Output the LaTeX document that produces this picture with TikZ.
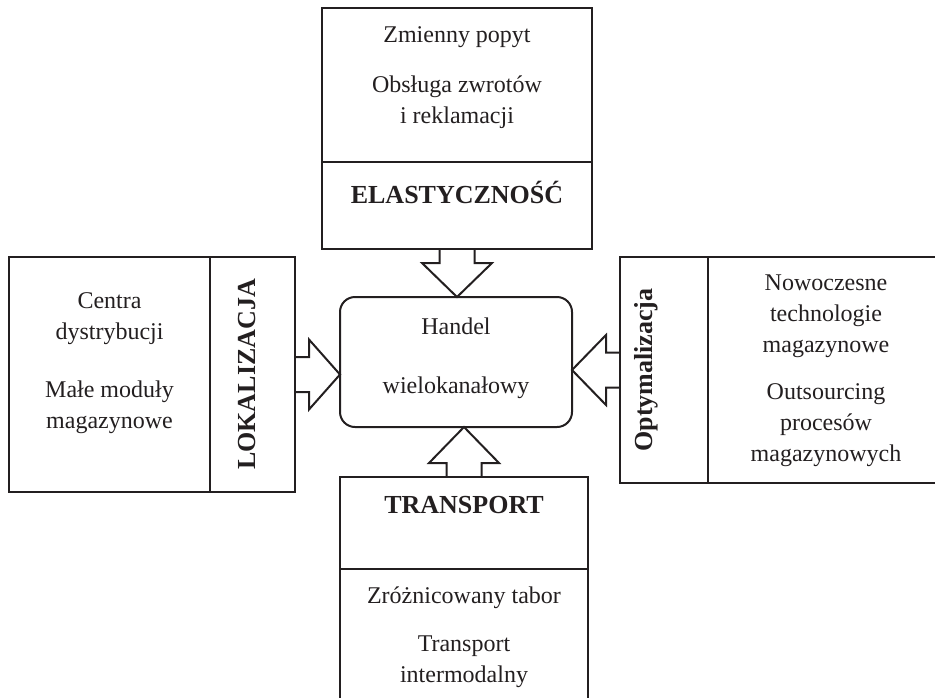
\documentclass[tikz,border=0pt]{standalone}
\usepackage{fontspec}
\setmainfont{Liberation Serif}
\usepackage{xcolor}
\definecolor{inkDark}{HTML}{231F20}
\usepackage{tikz}
\usetikzlibrary{positioning,calc}
\tikzset{
    part/.style={
        draw=inkDark,
        rectangle,
        line width=1pt,
        inner sep=0pt,
        outer sep=0pt,
        anchor=north west
    },
    hubbox/.style={
        draw=inkDark,
        rectangle,
        rounded corners=7.5pt,
        line width=1pt,
        inner sep=0pt,
        outer sep=0pt,
        minimum width=116pt,
        minimum height=65pt,
        anchor=north west
    },
    items/.style={
        align=center,
        inner sep=0pt,
        text=inkDark,
        font=\fontsize{12}{15.5}\selectfont
    },
    heading/.style={
        inner sep=0pt,
        text=inkDark,
        font=\fontsize{13}{15.5}\selectfont\bfseries
    },
    blockarrow/.style={
        draw=inkDark,
        line width=1pt,
        line join=miter
    }
}

\begin{document}
\begin{tikzpicture}[x=0.5pt,y=-0.5pt]
    \useasboundingbox (0,0) rectangle (935,697);

    % Central block
    \node[hubbox] (hub) at (340,297) {};
    \node[items, below=10pt of hub.north] (hubText) {Handel\\[14pt]wielokanałowy};

    % Elasticity (top)
    \node[part, minimum width=135pt, minimum height=77pt] (elastList) at (322,8) {};
    \node[part, minimum width=135pt, minimum height=43.5pt, below=0pt of elastList] (elastTitle) {};
    \node[items, below=9pt of elastList.north] (elastText) {Zmienny popyt\\[9.5pt]Obsługa zwrotów\\i reklamacji};
    \node[heading, below=20.5pt of elastTitle.north, anchor=base] (elastHead) {ELASTYCZNOŚĆ};

    % Location (left)
    \node[part, minimum width=100.5pt, minimum height=117.5pt] (lokList) at (9,257) {};
    \node[part, minimum width=42.5pt, minimum height=117.5pt, right=0pt of lokList] (lokTitle) {};
    \node[items, below=17.5pt of lokList.north] (lokText) {Centra\\dystrybucji\\[13.5pt]Małe moduły\\magazynowe};
    \node[heading, rotate=90, anchor=base] (lokHead) at ($(lokTitle.center)+(2.5,0)$) {LOKALIZACJA};

    % Optimisation (right)
    \node[part, minimum width=44pt, minimum height=113pt] (optTitle) at (620,257) {};
    \node[part, minimum width=118pt, minimum height=113pt, right=0pt of optTitle] (optList) {};
    \node[items, below=8.5pt of optList.north] (optText) {Nowoczesne\\technologie\\magazynowe\\[8pt]Outsourcing\\procesów\\magazynowych};
    \node[heading, rotate=90, anchor=base] (optHead) at ($(optTitle.center)+(-12,0)$) {Optymalizacja};

    % Transport (bottom)
    \node[part, minimum width=124pt, minimum height=46pt] (transTitle) at (340,477) {};
    \node[part, minimum width=124pt, minimum height=70pt, below=0pt of transTitle] (transList) {};
    \node[heading, below=18pt of transTitle.north, anchor=base] (transHead) {TRANSPORT};
    \node[items, below=8.5pt of transList.north] (transText) {Zróżnicowany tabor\\[8.5pt]Transport\\intermodalny};

    % Block arrows
    \draw[blockarrow] ($(elastTitle.south)+(-17.5,0)$) -- ++(0,14) -- ++(-17.5,0) -- (elastTitle.south |- hub.north) -- ($(elastTitle.south)+(35,14)$) -- ++(-17.5,0) -- ++(0,-14);
    \draw[blockarrow] ($(lokTitle.east)+(0,-17.5)$) -- ++(14,0) -- ++(0,-17.5) -- (lokTitle.east -| hub.west) -- ($(lokTitle.east)+(14,35)$) -- ++(0,-17.5) -- ++(-14,0);
    \draw[blockarrow] ($(optTitle.west)+(0,-17.5)$) -- ++(-14,0) -- ++(0,-17.5) -- (optTitle.west -| hub.east) -- ($(optTitle.west)+(-14,35)$) -- ++(0,-17.5) -- ++(14,0);
    \draw[blockarrow] ($(transTitle.north)+(-17.5,0)$) -- ++(0,-14) -- ++(-17.5,0) -- (transTitle.north |- hub.south) -- ($(transTitle.north)+(35,-14)$) -- ++(-17.5,0) -- ++(0,14);
\end{tikzpicture}
\end{document}
